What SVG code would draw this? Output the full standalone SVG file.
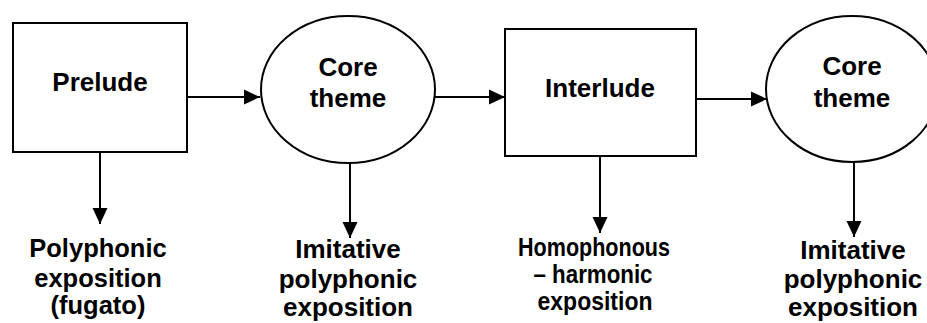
<svg xmlns="http://www.w3.org/2000/svg" width="927" height="323" viewBox="0 0 927 323">
<style>
.shape{fill:#fff;stroke:#000;stroke-width:2}
.conn{stroke:#000;stroke-width:2;fill:none}
text{font-family:"Liberation Sans",Arial,sans-serif;font-weight:bold;fill:#000;text-anchor:middle}
.t{font-size:26px}
.b{font-size:25.5px}
.c{font-size:26px}
</style>
<defs>
<marker id="ah" markerUnits="userSpaceOnUse" markerWidth="16" markerHeight="16" refX="16" refY="8" orient="auto">
<path d="M0,0.5 L16,8 L0,15.5 Z" fill="#000"/>
</marker>
</defs>
<rect width="927" height="323" fill="#fff"/>
<g id="connectors">
<line class="conn" x1="187" y1="97" x2="260" y2="97" marker-end="url(#ah)"/>
<line class="conn" x1="435" y1="97" x2="505" y2="97" marker-end="url(#ah)"/>
<line class="conn" x1="696" y1="99" x2="767" y2="99" marker-end="url(#ah)"/>
<line class="conn" x1="100" y1="152" x2="100" y2="224" marker-end="url(#ah)"/>
<line class="conn" x1="350" y1="163" x2="350" y2="238" marker-end="url(#ah)"/>
<line class="conn" x1="600" y1="156" x2="600" y2="233" marker-end="url(#ah)"/>
<line class="conn" x1="854" y1="162" x2="854" y2="237" marker-end="url(#ah)"/>
</g>
<g id="prelude">
<rect class="shape" x="13" y="23" width="174" height="129"/>
<text class="t" x="100" y="91">Prelude</text>
</g>
<g id="core1">
<ellipse class="shape" cx="348" cy="89.5" rx="87" ry="73.5"/>
<text class="t" x="348" y="76">Core</text>
<text class="t" x="348" y="107">theme</text>
</g>
<g id="interlude">
<rect class="shape" x="505" y="29" width="191" height="127"/>
<text class="t" x="600" y="97">Interlude</text>
</g>
<g id="core2">
<ellipse class="shape" cx="852" cy="89" rx="86" ry="73"/>
<text class="t" x="852" y="75">Core</text>
<text class="t" x="852" y="107">theme</text>
</g>
<g id="out1">
<text class="b" x="98" y="257">Polyphonic</text>
<text class="b" x="98" y="287">exposition</text>
<text class="b" x="98" y="314">(fugato)</text>
</g>
<g id="out2">
<text class="c" x="348" y="258">Imitative</text>
<text class="c" x="348" y="288">polyphonic</text>
<text class="c" x="348" y="316">exposition</text>
</g>
<g id="out3">
<text class="b" x="594" y="256" textLength="152" lengthAdjust="spacingAndGlyphs">Homophonous</text>
<text class="b" x="593" y="283" textLength="119" lengthAdjust="spacingAndGlyphs">– harmonic</text>
<text class="b" x="595" y="310" textLength="115" lengthAdjust="spacingAndGlyphs">exposition</text>
</g>
<g id="out4">
<text class="c" x="853" y="259">Imitative</text>
<text class="c" x="853" y="288">polyphonic</text>
<text class="c" x="853" y="316">exposition</text>
</g>
</svg>
